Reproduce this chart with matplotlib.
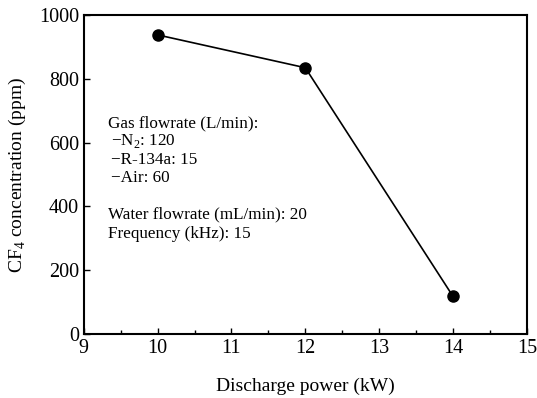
import matplotlib
matplotlib.use("Agg")
import matplotlib.pyplot as plt
from matplotlib.ticker import MultipleLocator

plt.rcParams['font.family'] = ['Liberation Serif', 'DejaVu Serif']
plt.rcParams['mathtext.fontset'] = 'custom'
plt.rcParams['mathtext.rm'] = 'Liberation Serif'

power_kw = [10, 12, 14]
cf4_ppm = [938, 835, 118]

fig = plt.figure(figsize=(5.37, 3.98), dpi=100)
ax = fig.add_axes([0.156, 0.161, 0.825, 0.801])
ax.plot(power_kw, cf4_ppm, color='black', lw=1.2, marker='o', ms=8, mfc='black', mec='black')

ax.set_xlim(9, 15)
ax.set_ylim(0, 1000)
ax.xaxis.set_major_locator(MultipleLocator(1))
ax.xaxis.set_minor_locator(MultipleLocator(0.5))
ax.yaxis.set_major_locator(MultipleLocator(200))
ax.tick_params(direction='in', which='both', labelsize=14.5, top=False, right=False)
ax.tick_params(which='major', length=4, width=1)
ax.tick_params(which='minor', length=3, width=1)
for s in ax.spines.values():
    s.set_linewidth(1.5)

ax.set_xlabel('Discharge power (kW)', fontsize=14, labelpad=14)
ax.set_ylabel('CF$_4$ concentration (ppm)', fontsize=14, labelpad=8)

fs = 12.3
lines = [
    (9.33, 660, 'Gas flowrate (L/min):'),
    (9.37, 604, '\u2212N$_2$: 120'),
    (9.37, 545, '\u2212R-134a: 15'),
    (9.37, 490, '\u2212Air: 60'),
    (9.33, 375, 'Water flowrate (mL/min): 20'),
    (9.33, 315, 'Frequency (kHz): 15'),
]
for x, y, t in lines:
    ax.text(x, y, t, fontsize=fs, va='center', ha='left')

fig.savefig('out.png', dpi=100)
